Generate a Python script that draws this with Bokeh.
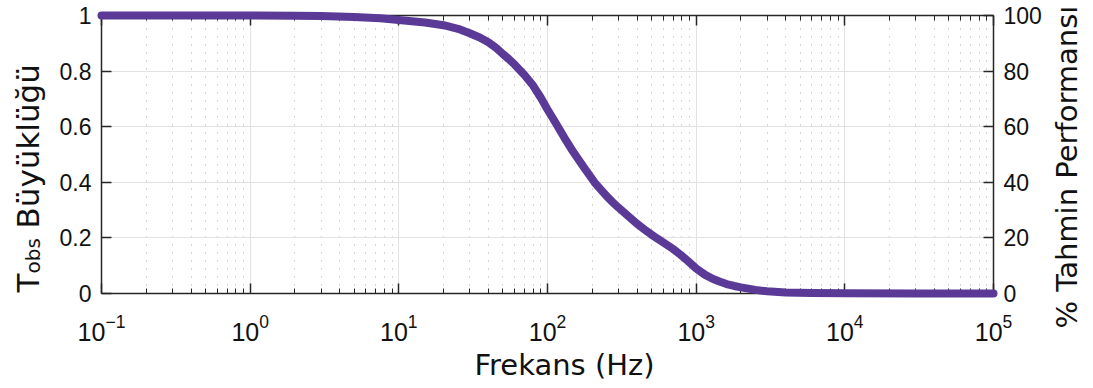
import math
from bokeh.plotting import figure
from bokeh.models import (Range1d, LinearAxis, LogAxis, FixedTicker, Grid,
                          Label, CustomJSTickFormatter, LogTickFormatter)
from bokeh.embed import file_html
from bokeh.resources import INLINE

# ---- data ----
freq_hz = [0.1, 1, 2, 3, 5, 7.5, 10, 15, 20, 25, 30, 35, 40, 45, 50, 55, 60, 70, 80,
           90, 100, 113, 130, 150, 175, 207, 230, 250, 275, 300, 350, 400, 450, 500,
           550, 600, 700, 783, 880, 1000, 1150, 1300, 1450, 1600, 1800, 2000, 2500,
           3000, 4000, 6000, 10000, 30000, 100000]
t_obs = [1.0, 1.0, 0.999, 0.998, 0.995, 0.99, 0.984, 0.975, 0.965, 0.952, 0.936,
         0.921, 0.904, 0.884, 0.862, 0.843, 0.824, 0.786, 0.748, 0.705, 0.662, 0.615,
         0.56, 0.507, 0.455, 0.40, 0.372, 0.35, 0.328, 0.309, 0.278, 0.251, 0.23,
         0.212, 0.197, 0.184, 0.160, 0.140, 0.117, 0.090, 0.067, 0.052, 0.042,
         0.034, 0.027, 0.022, 0.013, 0.008, 0.004, 0.002, 0.001, 0.0, 0.0]

x_ticks = [0.1, 1, 10, 100, 1000, 10000, 100000]
y_ticks = [0, 0.2, 0.4, 0.6, 0.8, 1]
y_tick_labels = ["0", "0.2", "0.4", "0.6", "0.8", "1"]
pct_ticks = [0, 20, 40, 60, 80, 100]

x_title = "Frekans (Hz)"
y_title_main = "T"
y_title_sub = "obs"
y_title_rest = "Büyüklüğü"
y2_title = "% Tahmin Performansı"

# ---- layout: the frame covers the whole canvas; axes are placed inside it ----
W, H = 1093, 388
PX_L, PX_R, PX_T, PX_B = 101, 993, 15, 293          # pixel box of the axes
X0, X1 = min(x_ticks), max(x_ticks)
Y0, Y1 = min(y_ticks), max(y_ticks)
dec = (math.log10(X1) - math.log10(X0)) / (PX_R - PX_L)
xr = (10 ** (math.log10(X0) - PX_L * dec), 10 ** (math.log10(X1) + (W - PX_R) * dec))
upx = (Y1 - Y0) / (PX_B - PX_T)
yr = (Y0 - (H - PX_B) * upx, Y1 + PX_T * upx)
PCT = 100.0

AX = "#262626"
TXT = "#111111"
TICK_FONT = "Liberation Sans"
TITLE_FONT = "DejaVu Sans"

p = figure(width=W, height=H, x_axis_type="log",
           x_range=Range1d(*xr), y_range=Range1d(*yr),
           output_backend="svg", toolbar_location=None,
           min_border=0, min_border_left=0, min_border_right=0,
           min_border_top=0, min_border_bottom=0)
p.title.visible = False
p.outline_line_color = None
p.background_fill_color = "white"
p.border_fill_color = "white"
p.extra_y_ranges = {"pct": Range1d(yr[0] * PCT, yr[1] * PCT)}

minor = [m * t for t in x_ticks[:-1] for m in range(2, 10)]
xticker = FixedTicker(ticks=x_ticks, minor_ticks=minor)
yticker = FixedTicker(ticks=y_ticks)


def style(ax, size="23px"):
    ax.axis_line_color = AX
    ax.axis_line_width = 1.5
    ax.major_tick_line_color = AX
    ax.major_tick_line_width = 1.5
    ax.minor_tick_line_color = AX
    ax.minor_tick_line_width = 1
    ax.major_tick_in = 10
    ax.major_tick_out = 0
    ax.minor_tick_in = 5
    ax.minor_tick_out = 0
    ax.major_label_text_font = TICK_FONT
    ax.major_label_text_font_size = size
    ax.major_label_text_color = TXT


# bottom axis
xa = p.xaxis[0]
style(xa, "25px")
xa.ticker = xticker
xa.formatter = LogTickFormatter()
xa.fixed_location = Y0
xa.bounds = (X0, X1)
xa.major_label_standoff = 20

# top axis (ticks only)
ta = LogAxis(ticker=xticker, formatter=CustomJSTickFormatter(code="return ''"))
style(ta)
ta.fixed_location = Y1
ta.bounds = (X0, X1)
ta.major_label_standoff = 0
p.add_layout(ta, "above")

# left axis
ya = p.yaxis[0]
style(ya)
ya.ticker = yticker
ya.major_label_overrides = {t: s for t, s in zip(y_ticks, y_tick_labels)}
ya.fixed_location = X0
ya.bounds = (Y0, Y1)
ya.major_label_standoff = 10

# right axis
ra = LinearAxis(y_range_name="pct", ticker=FixedTicker(ticks=pct_ticks))
style(ra)
ra.fixed_location = X1
ra.bounds = (Y0 * PCT, Y1 * PCT)
ra.major_label_standoff = 10
p.add_layout(ra, "right")

# grids
has_cross = "cross_bounds" in Grid.properties()
p.xgrid.ticker = xticker
p.xgrid.bounds = (X0, X1)
p.xgrid.grid_line_color = "#e2e2e2"
p.xgrid.grid_line_width = 1
p.xgrid.minor_grid_line_color = "#aaaaaa"
p.xgrid.minor_grid_line_dash = "1 7"
p.xgrid.minor_grid_line_width = 1
p.ygrid.ticker = yticker
p.ygrid.bounds = (Y0, Y1)
p.ygrid.grid_line_color = "#e2e2e2"
p.ygrid.grid_line_width = 1
if has_cross:
    p.xgrid.cross_bounds = (Y0, Y1)
    p.ygrid.cross_bounds = (X0, X1)

# curve (drawn above the axes, like the reference)
r = p.line(freq_hz, t_obs, line_width=8, line_color="#5a3a96",
           line_join="round", line_cap="round")
r.level = "overlay"


# titles: screen units, origin at the canvas bottom-left (frame == canvas)
def title(x, y, text, size, angle=0.0, align="left"):
    p.add_layout(Label(x=x, y=H - y, x_units="screen", y_units="screen",
                       text=text, text_font=TITLE_FONT, text_font_size=size,
                       angle=angle, text_align=align, text_baseline="alphabetic",
                       text_color=TXT))


title(564, 364, x_title, "29px", align="center")
title(1066, 328, y2_title, "29px", angle=math.pi / 2)
title(27, 292, y_title_main, "31px", angle=math.pi / 2)
title(32, 273, y_title_sub, "20px", angle=math.pi / 2)
title(27, 228, y_title_rest, "31px", angle=math.pi / 2)

open("out.html", "w").write(file_html(p, INLINE))
